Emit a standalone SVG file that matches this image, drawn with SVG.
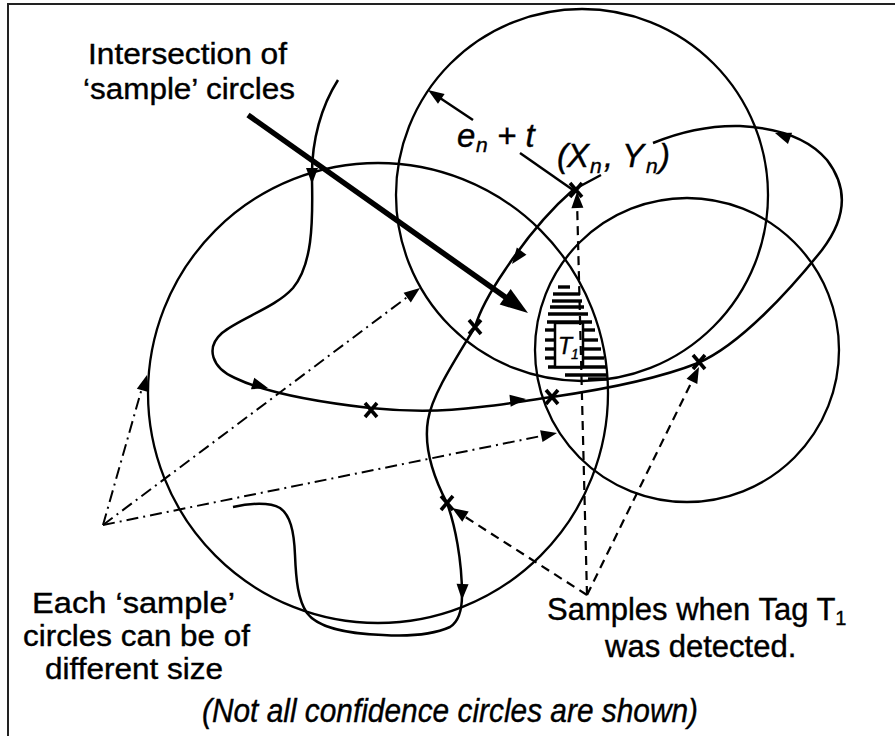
<svg xmlns="http://www.w3.org/2000/svg" xmlns:xlink="http://www.w3.org/1999/xlink" width="895" height="736" viewBox="0 0 895 736">
<style>
.c{fill:none;stroke:#000;stroke-width:2.3}
.p{fill:none;stroke:#000;stroke-width:2.5}
.d{fill:none;stroke:#000;stroke-width:2.2;stroke-dasharray:9 6}
.dd{fill:none;stroke:#000;stroke-width:2;stroke-dasharray:12 5 2 5}
.x{stroke:#000;stroke-width:3.6;fill:none}
.h{stroke:#000;stroke-width:3.4}
.big{font-family:"Liberation Sans",Arial,sans-serif;font-size:30px;fill:#000;stroke:#000;stroke-width:0.4}
.lab{font-family:"Liberation Sans",Arial,sans-serif;font-size:31px;fill:#000;stroke:#000;stroke-width:0.4}
.it{font-family:"Liberation Sans",Arial,sans-serif;font-style:italic;fill:#000;stroke:#000;stroke-width:0.4}
</style>
<defs>
<path id="ah" d="M0,0 L-16,-6 L-16,6 Z" fill="#000"/>
<path id="xm" d="M-6,-7 L6,7 M-6,7 L6,-7" class="x"/>
</defs>
<rect width="895" height="736" fill="#fff"/>
<g id="frame"><path d="M8,736 L8,4 L895,4" fill="none" stroke="#222" stroke-width="2"/></g>

<g id="circle-left"><circle class="c" cx="378" cy="393" r="230"/></g>
<g id="circle-top"><circle class="c" cx="582" cy="195" r="186"/></g>
<g id="circle-right"><circle class="c" cx="687" cy="350" r="152"/></g>

<g id="intersection">
<g class="h">
<line x1="558" y1="287" x2="570" y2="287"/>
<line x1="553" y1="294" x2="580" y2="294"/>
<line x1="552" y1="301" x2="582" y2="301"/>
<line x1="550" y1="307" x2="584" y2="307"/>
<line x1="548" y1="314" x2="588" y2="314"/>
<line x1="547" y1="322" x2="592" y2="322"/>
<line x1="545" y1="330" x2="555" y2="330"/><line x1="583" y1="330" x2="595" y2="330"/>
<line x1="545" y1="340" x2="555" y2="340"/><line x1="583" y1="340" x2="598" y2="340"/>
<line x1="545" y1="349" x2="555" y2="349"/><line x1="583" y1="349" x2="601" y2="349"/>
<line x1="545" y1="358" x2="555" y2="358"/><line x1="583" y1="358" x2="604" y2="358"/>
<line x1="548" y1="367" x2="607" y2="367"/>
<line x1="565" y1="375" x2="608" y2="375"/>
<line x1="588" y1="379" x2="608" y2="379"/>
</g>
<rect x="555" y="323" width="28" height="44" fill="#fff" stroke="#000" stroke-width="2.5"/>
<text class="it" x="558" y="354" font-size="23">T</text>
<text class="it" x="571" y="359" font-size="14">1</text>
</g>

<g id="connectors">
<path class="p" d="M338,80 C322,105 311,140 312,180 C313,225 312,265 293,288 C275,308 240,318 222,333 C205,348 212,368 235,378 C260,390 300,400 370,408 C410,412 450,411 480,407 C510,404 530,400 552,397 C600,390 660,378 698,363 C740,345 790,290 822,250 C845,220 850,190 827,160 C810,140 780,128 740,126 C700,125 670,136 653,143"/>
<path class="p" d="M601,175 L573,190 C550,210 525,240 505,270 C490,292 480,310 475,327 C455,360 432,395 428,420 C423,450 435,480 447,503 C455,525 462,560 462,595 C462,610 458,622 450,627 C430,636 400,636 383,635 C350,634 318,628 307,613 C298,600 296,580 295,555 C294,530 290,515 280,508 C270,502 250,503 233,507"/>
<use xlink:href="#ah" transform="translate(312,184) rotate(90)"/>
<use xlink:href="#ah" transform="translate(268,388) rotate(16)"/>
<use xlink:href="#ah" transform="translate(526,399) rotate(-6)"/>
<use xlink:href="#ah" transform="translate(775,133) rotate(200)"/>
<use xlink:href="#ah" transform="translate(512,264) rotate(127)"/>
<use xlink:href="#ah" transform="translate(462,600) rotate(92)"/>
<use xlink:href="#xm" transform="translate(371,410)"/>
<use xlink:href="#xm" transform="translate(475,327)"/>
<use xlink:href="#xm" transform="translate(552,397)"/>
<use xlink:href="#xm" transform="translate(447,503)"/>
<use xlink:href="#xm" transform="translate(699,362)"/>
<use xlink:href="#xm" transform="translate(576,190)"/>
<path class="d" d="M587,595 L577,200"/>
<path class="d" d="M587,595 L456,511"/>
<path class="d" d="M587,595 L696,373"/>
<use xlink:href="#ah" transform="translate(577,192) rotate(268.6)"/>
<use xlink:href="#ah" transform="translate(452,508) rotate(212.7)"/>
<use xlink:href="#ah" transform="translate(699,367) rotate(-63.7)"/>
<path class="dd" d="M103,525 L144,381"/>
<path class="dd" d="M103,525 L414,292"/>
<path class="dd" d="M103,525 L551,434"/>
<use xlink:href="#ah" transform="translate(147,375) rotate(-74)"/>
<use xlink:href="#ah" transform="translate(420,288) rotate(-36.8)"/>
<use xlink:href="#ah" transform="translate(557,433) rotate(-11.5)"/>
<path class="p" d="M473,120 L440,98"/>
<use xlink:href="#ah" transform="translate(428,90) rotate(213.7)"/>
<path class="p" d="M520,153 L573,190"/>
<path d="M248,115 L508,299" fill="none" stroke="#000" stroke-width="5.5"/>
<path d="M0,0 L-28,-9.5 L-28,9.5 Z" fill="#000" transform="translate(528,313) rotate(35.3)"/>
</g>

<g id="labels">
<text class="big" x="88" y="64" textLength="199" lengthAdjust="spacingAndGlyphs">Intersection of</text>
<text class="big" x="83" y="99" textLength="212" lengthAdjust="spacingAndGlyphs">‘sample’ circles</text>
<text class="it" font-size="33" x="457" y="147">e</text>
<text class="it" font-size="21" x="476" y="152">n</text>
<text class="it" font-size="33" x="497" y="147">+ t</text>
<text class="it" font-size="33" x="557" y="167">(</text>
<text class="it" font-size="33" x="567" y="167">X</text>
<text class="it" font-size="21" x="590" y="173">n</text>
<text class="it" font-size="33" x="604" y="167">,</text>
<text class="it" font-size="33" x="622" y="167">Y</text>
<text class="it" font-size="21" x="646" y="173">n</text>
<text class="it" font-size="33" x="659" y="167">)</text>
<text class="big" font-size="29" x="32" y="613" textLength="203" lengthAdjust="spacingAndGlyphs">Each ‘sample’</text>
<text class="big" font-size="29" x="23" y="646" textLength="227" lengthAdjust="spacingAndGlyphs">circles can be of</text>
<text class="big" font-size="29" x="45" y="679" textLength="178" lengthAdjust="spacingAndGlyphs">different size</text>
<text class="lab" x="547" y="620">Samples when Tag T<tspan font-size="20" dy="5">1</tspan></text>
<text class="lab" x="605" y="657">was detected.</text>
<text class="it" font-size="34" x="202" y="722" textLength="496" lengthAdjust="spacingAndGlyphs">(Not all confidence circles are shown)</text>
</g>
</svg>
